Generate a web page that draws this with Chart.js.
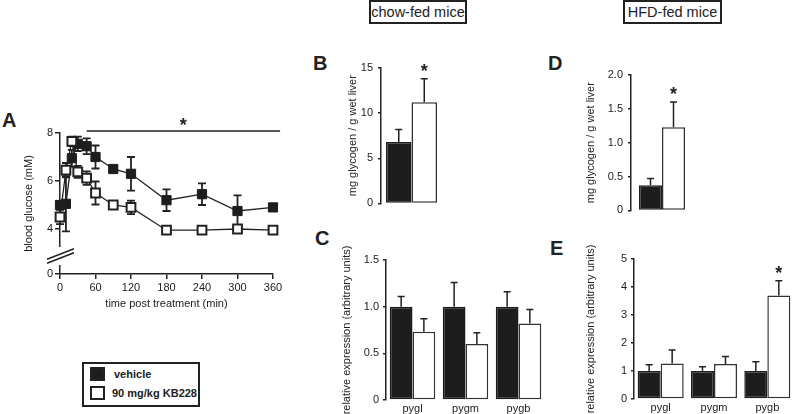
<!DOCTYPE html>
<html>
<head>
<meta charset="utf-8">
<script src="https://cdn.jsdelivr.net/npm/chart.js@4.4.1/dist/chart.umd.min.js"></script>
<style>
  body { margin: 0; background: #fff; font-family: "Liberation Sans", Arial, sans-serif; color: #222; }
  #fig { position: relative; width: 794px; height: 414px; overflow: hidden; }
  canvas { position: absolute; }
  .panel { position: absolute; font-weight: bold; font-size: 20px; line-height: 20px; }
  .head { position: absolute; top: 0; height: 24px; box-sizing: border-box; border: 2px solid #222;
          font-size: 14.5px; line-height: 20px; text-align: center; white-space: nowrap; }
  .legend { position: absolute; left: 82px; top: 362px; width: 118px; height: 45px; box-sizing: border-box;
            border: 2px solid #222; font-weight: bold; font-size: 11px; }
  .legend .sw { position: absolute; left: 6px; width: 15px; height: 14px; box-sizing: border-box; border: 2px solid #222; }
  .legend .tx { position: absolute; line-height: 14px; }
</style>
</head>
<body>
<div id="fig">
  <div class="head" style="left:369px;width:98px;">chow-fed mice</div>
  <div class="head" style="left:623px;width:99px;">HFD-fed mice</div>

  <div class="panel" style="left:2px;top:110px;">A</div>
  <div class="panel" style="left:313px;top:53px;">B</div>
  <div class="panel" style="left:315px;top:228px;">C</div>
  <div class="panel" style="left:548px;top:53px;">D</div>
  <div class="panel" style="left:550px;top:238px;">E</div>

  <canvas id="chartA" width="290" height="220" style="left:0;top:100px;"></canvas>
  <canvas id="chartB" width="130" height="165" style="left:330px;top:50px;"></canvas>
  <canvas id="chartD" width="140" height="167" style="left:570px;top:55px;"></canvas>
  <canvas id="chartC" width="220" height="174" style="left:330px;top:240px;"></canvas>
  <canvas id="chartE" width="224" height="174" style="left:570px;top:240px;"></canvas>

  <div class="legend">
    <div class="sw" style="top:3px;background:#1d1d1d;"></div>
    <div class="tx" style="left:30px;top:3px;">vehicle</div>
    <div class="sw" style="top:22px;background:#fff;"></div>
    <div class="tx" style="left:28px;top:22px;">90 mg/kg KB228</div>
  </div>
</div>

<script>
// panel A: blood glucose time course
const times = [0, 10, 20, 30, 45, 60, 90, 120, 180, 240, 300, 360];
const vehicleGlucose = [5.0, 5.05, 6.95, 7.55, 7.45, 7.0, 6.5, 6.3, 5.2, 5.45, 4.75, 4.9];
const vehicleGlucoseErr = [0.15, 1.15, 0.35, 0.3, 0.33, 0.48, 0.12, 0.7, 0.45, 0.45, 0.65, 0.05];
const kbGlucose = [4.5, 6.45, 7.65, 6.38, 6.12, 5.5, 5.0, 4.9, 3.95, 3.95, 4.0, 3.95];
const kbGlucoseErr = [0.3, 0.3, 0.2, 0.25, 0.28, 0.48, 0.12, 0.28, 0.15, 0.1, 0.1, 0.05];
const timeTicks = [0, 60, 120, 180, 240, 300, 360];
const glucoseTicks = [4, 6, 8];
const breakFloor = 2.125;          // axis bottom, labelled 0 (broken axis)
const sigWindow = [45, 372];

// panels B / D: liver glycogen
const glycogenGroups = ['liver glycogen'];
const chowGlycogen = [6.8, 11.2];
const chowGlycogenErr = [1.4, 2.6];
const hfdGlycogen = [0.37, 1.23];
const hfdGlycogenErr = [0.1, 0.37];

// panels C / E: phosphorylase expression
const genes = ['pygl', 'pygm', 'pygb'];
const chowVehicleExpr = [1.0, 1.0, 1.0];
const chowVehicleExprErr = [0.11, 0.26, 0.16];
const chowKbExpr = [0.73, 0.6, 0.82];
const chowKbExprErr = [0.14, 0.12, 0.15];
const hfdVehicleExpr = [1.0, 1.0, 1.0];
const hfdVehicleExprErr = [0.22, 0.15, 0.33];
const hfdKbExpr = [1.27, 1.25, 3.7];
const hfdKbExprErr = [0.48, 0.27, 0.52];
const hfdKbStars = [false, false, true];

const INK = '#222';
const DARK = '#1d1d1d';
const FONT = '"Liberation Sans", Arial, sans-serif';

Chart.defaults.font.family = FONT;
Chart.defaults.font.size = 11;
Chart.defaults.color = INK;

function drawStar(ctx, x, cy) {
    ctx.save();
    ctx.fillStyle = INK;
    ctx.font = 'bold 18px ' + FONT;
    ctx.textAlign = 'center';
    ctx.textBaseline = 'alphabetic';
    ctx.fillText('*', x, cy + 10);
    ctx.restore();
}

const errorBars = {
    id: 'errorBars',
    beforeDatasetsDraw(chart) {
        const ctx = chart.ctx;
        const yS = chart.scales.y;
        chart.data.datasets.forEach((ds, di) => {
            if (!ds.errors) return;
            const meta = chart.getDatasetMeta(di);
            meta.data.forEach((el, i) => {
                const v = meta.controller.getParsed(i).y;
                const e = ds.errors[i];
                const top = yS.getPixelForValue(v + e);
                const bot = yS.getPixelForValue(ds.bothSides ? v - e : v);
                const cap = ds.capHalf || 3.5;
                ctx.save();
                ctx.strokeStyle = INK;
                ctx.lineWidth = ds.errWidth || 1.5;
                ctx.beginPath();
                ctx.moveTo(el.x, top); ctx.lineTo(el.x, bot);
                ctx.moveTo(el.x - cap, top); ctx.lineTo(el.x + cap, top);
                if (ds.bothSides) { ctx.moveTo(el.x - cap, bot); ctx.lineTo(el.x + cap, bot); }
                ctx.stroke();
                ctx.restore();
                if (ds.stars && ds.stars[i]) drawStar(ctx, el.x, top - 12);
            });
        });
    }
};

const glucoseExtras = {
    id: 'glucoseExtras',
    afterDraw(chart) {
        const ctx = chart.ctx;
        const xS = chart.scales.x, yS = chart.scales.y;
        const x0 = chart.chartArea.left;
        // axis break
        const yTop = yS.getPixelForValue(3.25), yBot = yS.getPixelForValue(2.5);
        const yMid = yS.getPixelForValue(2.875);
        ctx.save();
        ctx.fillStyle = '#fff';
        ctx.fillRect(x0 - 2, yTop, 4, yBot - yTop);
        ctx.strokeStyle = INK;
        ctx.lineWidth = 1.5;
        ctx.beginPath();
        ctx.moveTo(x0 - 13, yMid + 7.3); ctx.lineTo(x0 + 14, yMid - 3.3);
        ctx.moveTo(x0 - 13, yMid + 3.3); ctx.lineTo(x0 + 14, yMid - 7.3);
        ctx.stroke();
        // zero label under the break
        ctx.fillStyle = INK;
        ctx.font = '11px ' + FONT;
        ctx.textAlign = 'right';
        ctx.textBaseline = 'middle';
        ctx.fillText('0', x0 - 7, yS.getPixelForValue(breakFloor));
        // significance bar
        const yLine = chart.chartArea.top - 2;
        ctx.beginPath();
        ctx.moveTo(xS.getPixelForValue(sigWindow[0]), yLine);
        ctx.lineTo(xS.getPixelForValue(sigWindow[1]), yLine);
        ctx.stroke();
        ctx.restore();
        drawStar(ctx, xS.getPixelForValue((sigWindow[0] + sigWindow[1]) / 2), yLine - 10);
    }
};

const axisLine = { display: true, color: INK, width: 1.5 };
const axisTicks = (len) => ({ drawOnChartArea: false, drawTicks: true, tickLength: len, color: INK, lineWidth: 1.5 });

new Chart(document.getElementById('chartA'), {
    type: 'line',
    data: {
        datasets: [
            {
                label: 'vehicle',
                data: times.map((t, i) => ({ x: t, y: vehicleGlucose[i] })),
                errors: vehicleGlucoseErr, bothSides: true, capHalf: 4, errWidth: 1.8,
                borderColor: INK, borderWidth: 1.3,
                pointStyle: 'rect', pointRadius: 6.5,
                pointBackgroundColor: DARK, pointBorderColor: DARK, pointBorderWidth: 1,
                clip: false, order: 1,
            },
            {
                label: '90 mg/kg KB228',
                data: times.map((t, i) => ({ x: t, y: kbGlucose[i] })),
                errors: kbGlucoseErr, bothSides: true, capHalf: 4, errWidth: 1.8,
                borderColor: INK, borderWidth: 1.3,
                pointStyle: 'rect', pointRadius: 6.2,
                pointBackgroundColor: '#fff', pointBorderColor: INK, pointBorderWidth: 2,
                clip: false, order: 0,
            },
        ],
    },
    options: {
        responsive: false,
        animation: false,
        layout: { padding: { top: 33, right: 17, left: 0, bottom: 0 } },
        plugins: { legend: { display: false }, tooltip: { enabled: false } },
        scales: {
            x: {
                type: 'linear', min: 0, max: 360,
                afterBuildTicks: (s) => { s.ticks = timeTicks.map((v) => ({ value: v })); },
                afterFit: (s) => { s.height = 46; },
                border: axisLine, grid: axisTicks(5),
                ticks: { padding: 2, maxRotation: 0 },
                title: { display: true, text: 'time post treatment (min)', padding: { top: 0, bottom: 9.4 } },
            },
            y: {
                min: breakFloor, max: 8,
                afterBuildTicks: (s) => { s.ticks = [breakFloor, ...glucoseTicks].map((v) => ({ value: v })); },
                afterFit: (s) => { s.width = 60; },
                border: axisLine, grid: axisTicks(5),
                ticks: { padding: 2, autoSkip: false, callback: (v, i) => (i === 0 ? '' : String(v)) },
                title: { display: true, text: 'blood glucose (mM)', padding: { top: 22.4, bottom: 0 } },
            },
        },
    },
    plugins: [errorBars, glucoseExtras],
});

function barDatasets(vehicle, vehicleErr, kb, kbErr, kbStars) {
    return [
        {
            label: 'vehicle', data: vehicle, errors: vehicleErr,
            backgroundColor: DARK, borderColor: DARK, borderWidth: 1.5, borderSkipped: false,
        },
        {
            label: '90 mg/kg KB228', data: kb, errors: kbErr, stars: kbStars,
            backgroundColor: '#fff', borderColor: '#333', borderWidth: 1.5, borderSkipped: false,
        },
    ];
}

function barChart(id, labels, datasets, cfg) {
    return new Chart(document.getElementById(id), {
        type: 'bar',
        data: { labels, datasets },
        options: {
            responsive: false,
            animation: false,
            barPercentage: 1,
            categoryPercentage: cfg.catPct,
            layout: { padding: cfg.padding },
            plugins: { legend: { display: false }, tooltip: { enabled: false } },
            scales: {
                x: {
                    display: cfg.showX,
                    afterFit: (s) => { s.height = cfg.xHeight || 0; },
                    grid: { display: false, drawTicks: false },
                    border: { display: false },
                    ticks: { padding: 2 },
                },
                y: {
                    min: 0, max: cfg.max,
                    ticks: { stepSize: cfg.step, padding: cfg.tickPad || 4, callback: cfg.fmt },
                    afterFit: (s) => { s.width = cfg.yWidth; },
                    border: axisLine, grid: axisTicks(3),
                    title: { display: true, text: cfg.title, padding: { top: cfg.titlePad, bottom: 0 } },
                },
            },
        },
        plugins: [errorBars],
    });
}

const oneDecimal = (v) => (v === 0 ? '0' : v.toFixed(1));

barChart('chartB', glycogenGroups,
    barDatasets([chowGlycogen[0]], [chowGlycogenErr[0]], [chowGlycogen[1]], [chowGlycogenErr[1]], [true]),
    { catPct: 0.836, padding: { top: 18, right: 18, left: 0, bottom: 8 }, showX: false,
      max: 15, step: 5, fmt: (v) => v, yWidth: 51, tickPad: 5,
      title: 'mg glycogen / g wet liver', titlePad: 16.4 });

barChart('chartD', glycogenGroups,
    barDatasets([hfdGlycogen[0]], [hfdGlycogenErr[0]], [hfdGlycogen[1]], [hfdGlycogenErr[1]], [true]),
    { catPct: 0.742, padding: { top: 20, right: 17, left: 0, bottom: 8 }, showX: false,
      max: 2, step: 0.5, fmt: oneDecimal, yWidth: 61, tickPad: 5,
      title: 'mg glycogen / g wet liver', titlePad: 14.4 });

barChart('chartC', genes,
    barDatasets(chowVehicleExpr, chowVehicleExprErr, chowKbExpr, chowKbExprErr, null),
    { catPct: 0.858, padding: { top: 20, right: 5, left: 0, bottom: 0 }, showX: true, xHeight: 14,
      max: 1.5, step: 0.5, fmt: oneDecimal, yWidth: 56, tickPad: 4,
      title: 'relative expression (arbitrary units)', titlePad: 10.4 });

barChart('chartE', genes,
    barDatasets(hfdVehicleExpr, hfdVehicleExprErr, hfdKbExpr, hfdKbExprErr, hfdKbStars),
    { catPct: 0.863, padding: { top: 19, right: 0, left: 0, bottom: 0 }, showX: true, xHeight: 15,
      max: 5, step: 1, fmt: (v) => v, yWidth: 64, tickPad: 4,
      title: 'relative expression (arbitrary units)', titlePad: 14.4 });
</script>
</body>
</html>
